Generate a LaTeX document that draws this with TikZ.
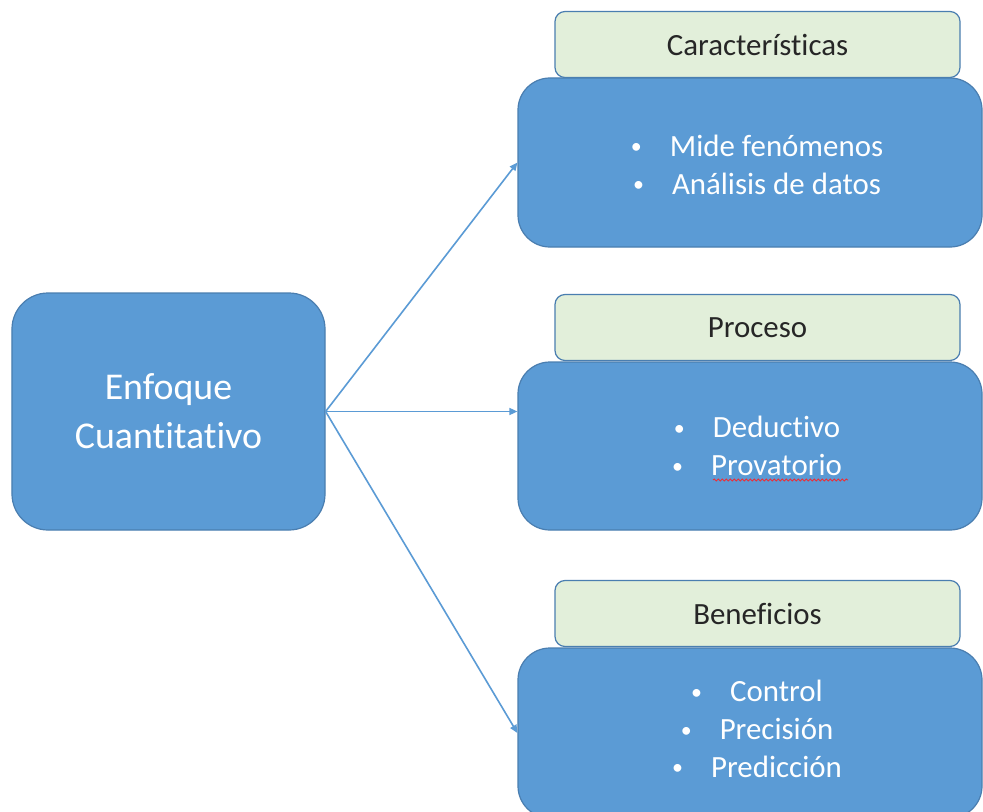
\documentclass[tikz,border=0pt]{standalone}
\usepackage{fontspec}
\setmainfont{Carlito}[Ligatures={NoCommon,NoContextual}]
\usetikzlibrary{arrows.meta,calc,decorations.pathmorphing}
\definecolor{boxblue}{HTML}{5B9BD5}
\definecolor{boxedge}{HTML}{4A7EB0}
\definecolor{labelgreen}{HTML}{E2EFDA}
\definecolor{labeltext}{HTML}{262626}
\definecolor{spellred}{HTML}{E8303A}
\newcommand\itembullet{\makebox[39bp][l]{\fontsize{22}{22}\selectfont\raisebox{2.5bp}{•}}}
\begin{document}
\begin{tikzpicture}[x=1bp,y=-1bp,
  topicbox/.style={draw=boxedge, fill=boxblue, line width=1.2bp, rounded corners=36bp,
    inner sep=0pt, text=white, align=center},
  detailbox/.style={topicbox, rounded corners=32bp, minimum width=464bp,
    font=\fontsize{31}{38}\selectfont},
  labelbox/.style={draw=boxedge, fill=labelgreen, line width=1.2bp, rounded corners=10bp,
    inner sep=0pt, minimum width=405bp, minimum height=66bp, text=labeltext,
    font=\fontsize{31}{38}\selectfont},
  itemtext/.style={text=white, align=center, font=\fontsize{31}{38}\selectfont},
  link/.style={draw=boxblue, line width=1.6bp, -{Triangle[length=8bp,width=7bp]}}]
  \fill[white] (0,0) rectangle (983,812);
  \useasboundingbox (0,0) rectangle (983,812);

  % main topic
  \node[topicbox, minimum width=313bp, minimum height=237bp,
        font=\fontsize{38}{49}\selectfont] (main) at (168.5,411.5)
        {Enfoque\\Cuantitativo};

  % heading tabs sit behind the detail boxes
  \node[labelbox] (l1) at (757.5,44.5) {Características};
  \node[labelbox] (l2) at (757.5,327.5) {Proceso};
  \node[labelbox] (l3) at (757.5,613.5) {Beneficios};

  \node[detailbox, minimum height=169bp] (b1) at (750,162.5) {};
  \node[detailbox, minimum height=168bp] (b2) at (750,446) {};
  \node[detailbox, minimum height=170bp] (b3) at (750,733) {};

  \node[itemtext] (t1) at ($(b1.center)+(7,2)$)
    {\itembullet Mide fenómenos\\\itembullet Análisis de datos};
  \node[itemtext] (t2) at ($(b2.center)+(7,0)$)
    {\itembullet Deductivo\\\itembullet Provatorio};
  \node[itemtext] (t3) at ($(b3.center)+(7,-4)$)
    {\itembullet Control\\\itembullet Precisión\\\itembullet Predicción};

  % spell-check underline under "Provatorio"
  \draw[spellred, line width=0.9bp, decorate,
        decoration={snake, segment length=4bp, amplitude=1bp}]
    ($(b2.center)+(-37,34)$) -- ($(b2.center)+(98,34)$);

  % connectors
  \draw[link] (main.east) -- (b1.west);
  \draw[link] (main.east) -- (main.east -| b2.west);
  \draw[link] (main.east) -- (b3.west);
\end{tikzpicture}
\end{document}
